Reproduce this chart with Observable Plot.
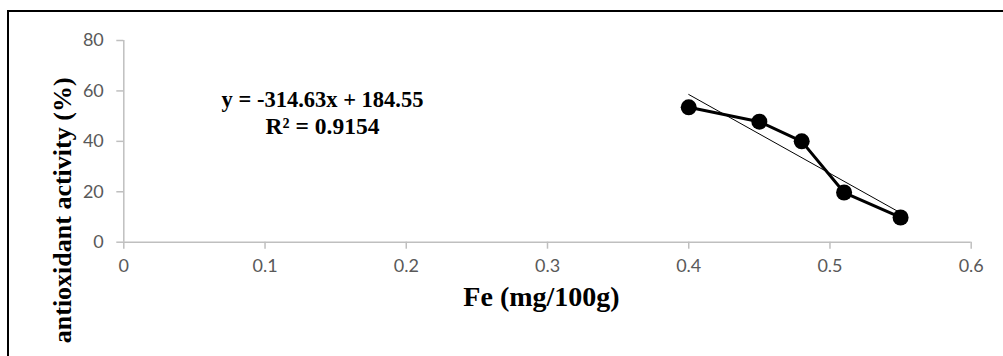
<!DOCTYPE html>
<html>
<head>
<meta charset="utf-8">
<script src="https://cdn.jsdelivr.net/npm/d3@7"></script>
<script src="https://cdn.jsdelivr.net/npm/@observablehq/plot@0.6"></script>
<style>
  html, body { margin: 0; padding: 0; background: #fff; width: 1003px; height: 356px; overflow: hidden; }
  #frame { position: absolute; left: 7px; top: 10px; width: 1010px; height: 360px; border-left: 2px solid #000; border-top: 2px solid #000; box-sizing: border-box; }
  #chart { position: absolute; left: 0; top: 0; }
</style>
</head>
<body>
<div id="frame"></div>
<div id="chart"></div>
<script>
const fe = [0.40, 0.45, 0.48, 0.51, 0.55];
const activity = [53.5, 47.8, 40.0, 19.7, 9.8];
const xTicks = [0, 0.1, 0.2, 0.3, 0.4, 0.5, 0.6];
const yTicks = [0, 20, 40, 60, 80];
const xLabel = "Fe (mg/100g)";
const yLabel = "antioxidant activity (%)";
const eqLine1 = "y = -314.63x + 184.55";
const eqLine2 = "R² = 0.9154";

const data = fe.map((x, i) => ({x, y: activity[i]}));
const serif = "'Liberation Serif', 'Times New Roman', serif";
const sans = "Lato, 'Open Sans', sans-serif";
const axisGray = "#bfbfbf";

const chart = Plot.plot({
  width: 1003,
  height: 356,
  marginLeft: 123.3,
  marginRight: 32.3,
  marginTop: 40,
  marginBottom: 114.3,
  style: {background: "transparent", overflow: "visible"},
  x: {domain: [0, 0.6]},
  y: {domain: [0, 80]},
  marks: [
    Plot.ruleY([0], {stroke: axisGray, strokeWidth: 1.5}),
    Plot.ruleX([0], {stroke: axisGray, strokeWidth: 1.5}),
    Plot.axisX({ticks: xTicks, tickFormat: d => String(d), tickSize: 7, tickPadding: 10, stroke: axisGray, strokeWidth: 1.5, fill: "#595959", fontSize: 18, fontFamily: sans, label: null}),
    Plot.axisY({ticks: yTicks, tickFormat: d => String(d), tickSize: 7, tickPadding: 13, stroke: axisGray, strokeWidth: 1.5, fill: "#595959", fontSize: 18, fontFamily: sans, label: null}),
    Plot.linearRegressionY(data, {x: "x", y: "y", ci: 0, stroke: "#000", strokeWidth: 1}),
    Plot.line(data, {x: "x", y: "y", stroke: "#000", strokeWidth: 3}),
    Plot.dot(data, {x: "x", y: "y", r: 8, fill: "#000", stroke: "none"}),
    Plot.text([xLabel], {text: d => d, frameAnchor: "bottom", dx: -6, dy: 64, fontSize: 28, fontWeight: "bold", fontFamily: serif, fill: "#000"}),
    Plot.text([yLabel], {text: d => d, frameAnchor: "left", textAnchor: "middle", rotate: -90, dx: -61, dy: 69, fontSize: 26, fontWeight: "bold", fontFamily: serif, fill: "#000"}),
    Plot.text([eqLine1], {text: d => d, frameAnchor: "top-left", textAnchor: "middle", dx: 198.7, dy: 51, fontSize: 22.5, fontWeight: "bold", fontFamily: serif, fill: "#000"}),
    Plot.text([eqLine2], {text: d => d, frameAnchor: "top-left", textAnchor: "middle", dx: 198.7, dy: 77, fontSize: 23.5, fontWeight: "bold", fontFamily: serif, fill: "#000"})
  ]
});
document.getElementById("chart").append(chart);
</script>
</body>
</html>
